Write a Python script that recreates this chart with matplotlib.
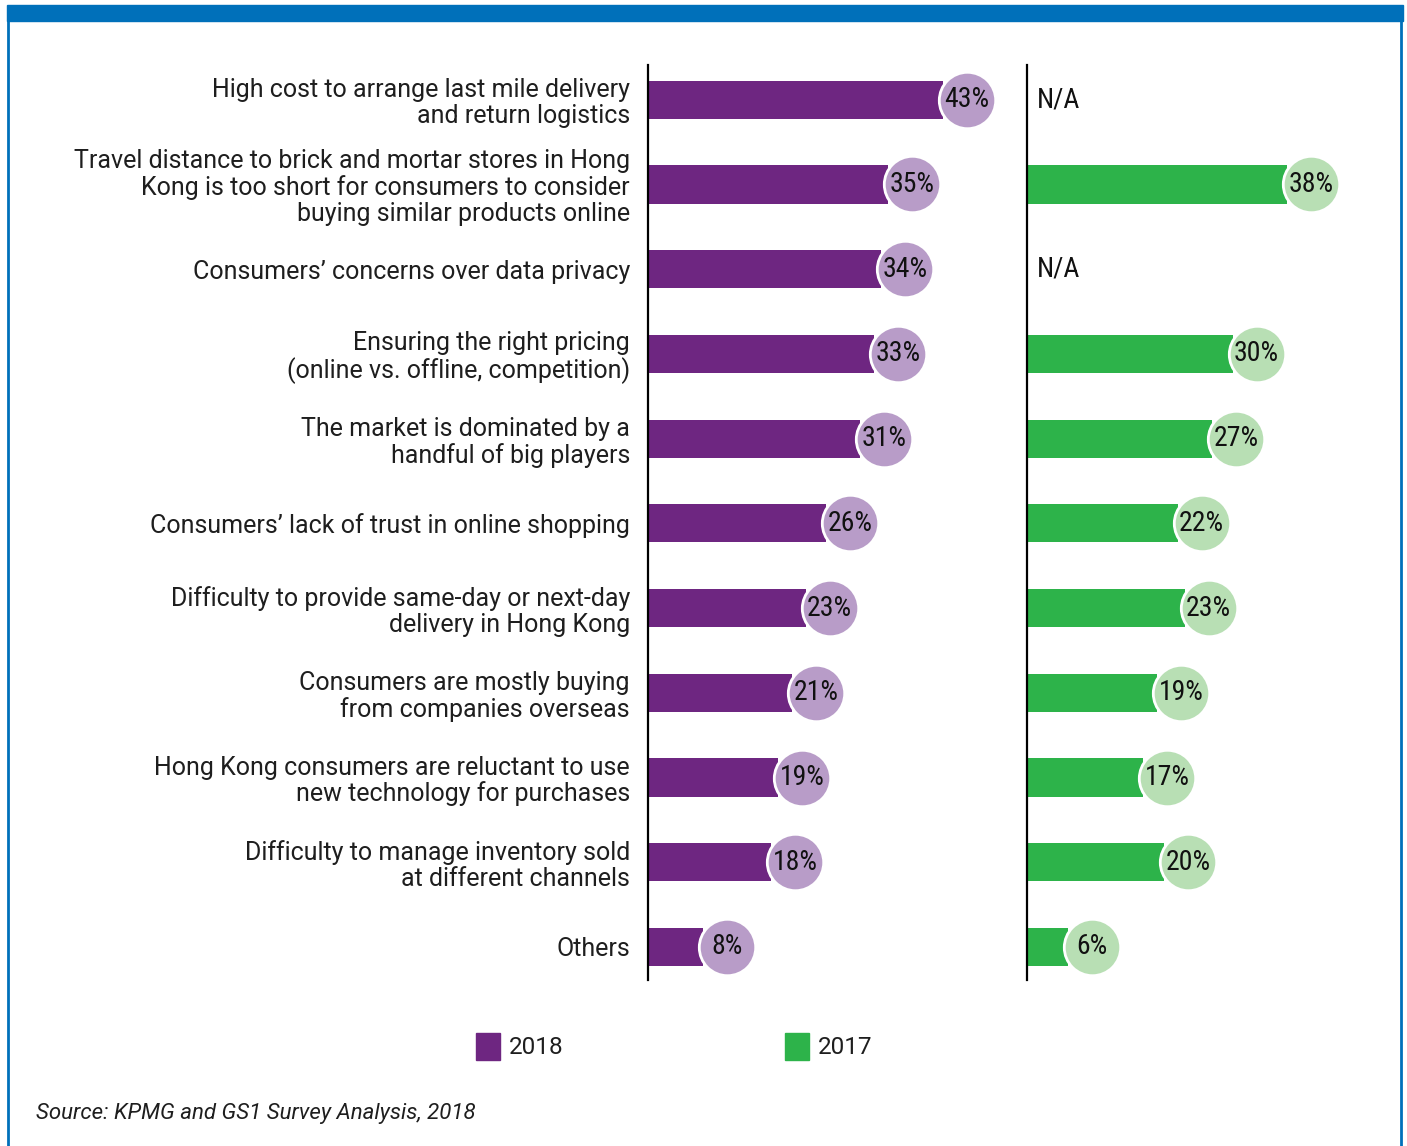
import matplotlib.pyplot as plt
from matplotlib.patches import Rectangle

labels = [
    "High cost to arrange last mile delivery\nand return logistics",
    "Travel distance to brick and mortar stores in Hong\nKong is too short for consumers to consider\nbuying similar products online",
    "Consumers\u2019 concerns over data privacy",
    "Ensuring the right pricing\n(online vs. offline, competition)",
    "The market is dominated by a\nhandful of big players",
    "Consumers\u2019 lack of trust in online shopping",
    "Difficulty to provide same-day or next-day\ndelivery in Hong Kong",
    "Consumers are mostly buying\nfrom companies overseas",
    "Hong Kong consumers are reluctant to use\nnew technology for purchases",
    "Difficulty to manage inventory sold\nat different channels",
    "Others",
]
vals_2018 = [43, 35, 34, 33, 31, 26, 23, 21, 19, 18, 8]
vals_2017 = [None, 38, None, 30, 27, 22, 23, 19, 17, 20, 6]

purple = "#6e2681"
purple_lt = "#b89cc8"
green = "#2db34a"
green_lt = "#b8dfb4"
blue = "#0070ba"
txt = "#1e1e1e"

W, H = 1407, 1146
fig = plt.figure(figsize=(W / 100, H / 100), dpi=100)
plt.rcParams['font.family'] = ['Roboto', 'DejaVu Sans']
num_font = ['Liberation Sans Narrow', 'Roboto Condensed', 'DejaVu Sans']

# frame
fig.patches.append(Rectangle((7 / W, 1 - 21 / H), 1396 / W, 16 / H, transform=fig.transFigure,
                             color=blue, zorder=0))
fig.add_artist(plt.Line2D([8 / W, 8 / W], [0, 1 - 21 / H], color=blue, lw=2))
fig.add_artist(plt.Line2D([1401 / W, 1401 / W], [0, 1 - 21 / H], color=blue, lw=2))

top, bot = 65, 980
scale = 6.85
xmax = 52


def make_ax(x0):
    ax = fig.add_axes([x0 / W, 1 - bot / H, xmax * scale / W, (bot - top) / H])
    ax.set_xlim(0, xmax)
    ax.set_ylim(10.39, -0.41)
    for s in ['top', 'right', 'bottom']:
        ax.spines[s].set_visible(False)
    ax.spines['left'].set_linewidth(1.6)
    ax.set_xticks([])
    ax.patch.set_alpha(0)
    return ax


y = list(range(len(labels)))
off = 24 / scale

ax1 = make_ax(648)
ax1.barh(y, vals_2018, height=0.45, color=purple)
ax1.scatter([v + off for v in vals_2018], y, s=1650, color=purple_lt, edgecolor='white',
            linewidth=2, zorder=3, clip_on=False)
for i, v in enumerate(vals_2018):
    ax1.text(v + off, i, f"{v}%", ha='center', va='center', fontsize=20, family=num_font,
             color='#111111', zorder=4)
ax1.set_yticks(y, labels, fontsize=18, color=txt, linespacing=1.1)
ax1.tick_params(axis='y', length=0, pad=13)

ax2 = make_ax(1027)
ax2.set_yticks([])
for i, v in enumerate(vals_2017):
    if v is None:
        ax2.text(10 / scale, i, "N/A", ha='left', va='center', fontsize=20,
                 family=num_font, color='#111111')
        continue
    ax2.barh(i, v, height=0.45, color=green)
    ax2.scatter(v + off, i, s=1650, color=green_lt, edgecolor='white', linewidth=2,
                zorder=3, clip_on=False)
    ax2.text(v + off, i, f"{v}%", ha='center', va='center', fontsize=20, family=num_font,
             color='#111111', zorder=4)

# legend
fig.patches.append(Rectangle((476 / W, 1 - 1060 / H), 24 / W, 27 / H, transform=fig.transFigure,
                             color=purple))
fig.text(509 / W, 1 - 1048 / H, "2018", fontsize=17.5, va='center', color=txt)
fig.patches.append(Rectangle((785 / W, 1 - 1060 / H), 24 / W, 27 / H, transform=fig.transFigure,
                             color=green))
fig.text(818 / W, 1 - 1048 / H, "2017", fontsize=17.5, va='center', color=txt)

fig.text(36 / W, 1 - 1113 / H, "Source: KPMG and GS1 Survey Analysis, 2018", fontsize=16,
         style='italic', va='center', color=txt)

fig.savefig("out.png", dpi=100)
